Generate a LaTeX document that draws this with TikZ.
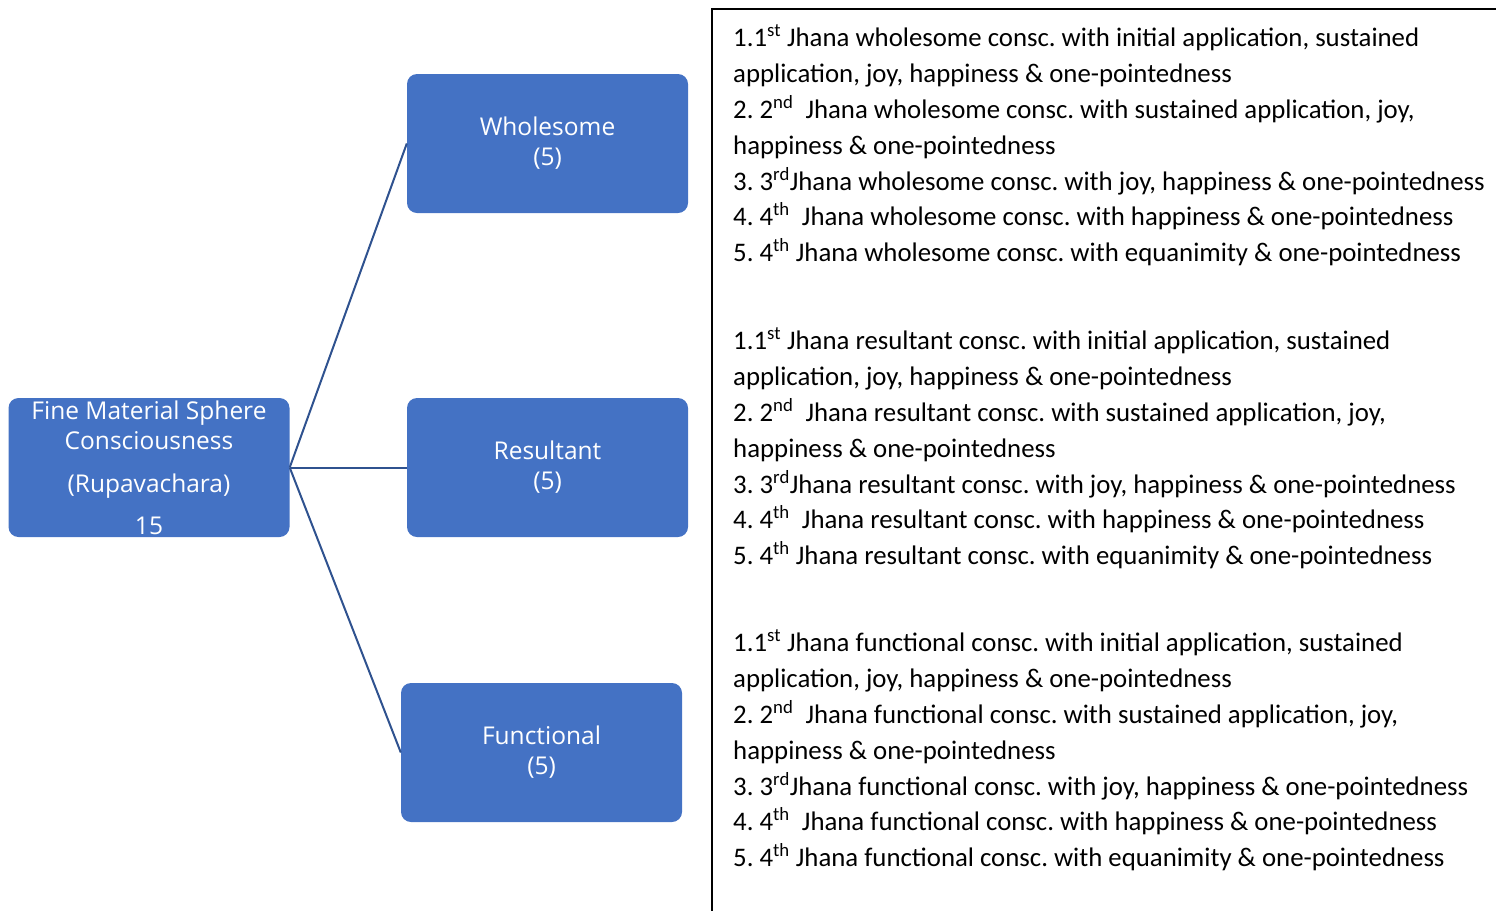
\documentclass[tikz,border=0pt]{standalone}
\usepackage{fontspec}
\setmainfont{Carlito}
\newfontfamily\boxfont{Open Sans}
\frenchspacing
\definecolor{boxblue}{HTML}{4472C4}
\definecolor{linkblue}{HTML}{2F528F}
\begin{document}
\begin{tikzpicture}[x=1pt,y=-1pt,
    catbox/.style={rectangle, rounded corners=10pt, fill=boxblue, text=white,
        align=center, minimum width=281pt, minimum height=139pt, inner sep=0pt,
        font=\boxfont\fontsize{24.5}{30}\selectfont},
    link/.style={draw=linkblue, line width=2pt},
    item/.style={anchor=base west, inner sep=0pt, font=\fontsize{26.8}{30}\selectfont}]
        \useasboundingbox (0,0) rectangle (1496,911);
        \node[catbox] (root) at (149,467.5)
            {Fine Material Sphere\\Consciousness\\[13pt](Rupavachara)\\[12pt]15};
        \node[catbox] (whole) at (547.5,143.5) {Wholesome\\(5)};
        \node[catbox] (result) at (547.5,467.5) {Resultant\\(5)};
        \node[catbox] (funct) at (541.5,752.5) {Functional\\(5)};
        \draw[link] (root.east) -- (whole.west);
        \draw[link] (root.east) -- (result.west);
        \draw[link] (root.east) -- (funct.west);
        % frame of the list, open on the right and at the bottom
        \draw[line width=2pt] (1496,9) -| (712,911);
        \foreach \kind/\dy in {wholesome/0, resultant/303, functional/605}
        {
            \node[item] (\kind-1) at (733,46+\dy)
                {1.1\textsuperscript{st} Jhana \kind{} consc. with initial application, sustained};
            \node[item] (\kind-2) at (733,82+\dy) {application, joy, happiness \& one-pointedness};
            \node[item] (\kind-3) at (733,118+\dy)
                {2. 2\textsuperscript{nd}\ \ Jhana \kind{} consc. with sustained application, joy,};
            \node[item] (\kind-4) at (733,154+\dy) {happiness \& one-pointedness};
            \node[item] (\kind-5) at (733,190+\dy)
                {3. 3\textsuperscript{rd}Jhana \kind{} consc. with joy, happiness \& one-pointedness};
            \node[item] (\kind-6) at (733,225+\dy)
                {4. 4\textsuperscript{th}\ \ Jhana \kind{} consc. with happiness \& one-pointedness};
            \node[item] (\kind-7) at (733,261+\dy)
                {5. 4\textsuperscript{th} Jhana \kind{} consc. with equanimity \& one-pointedness};
        }
    \end{tikzpicture}
\end{document}
